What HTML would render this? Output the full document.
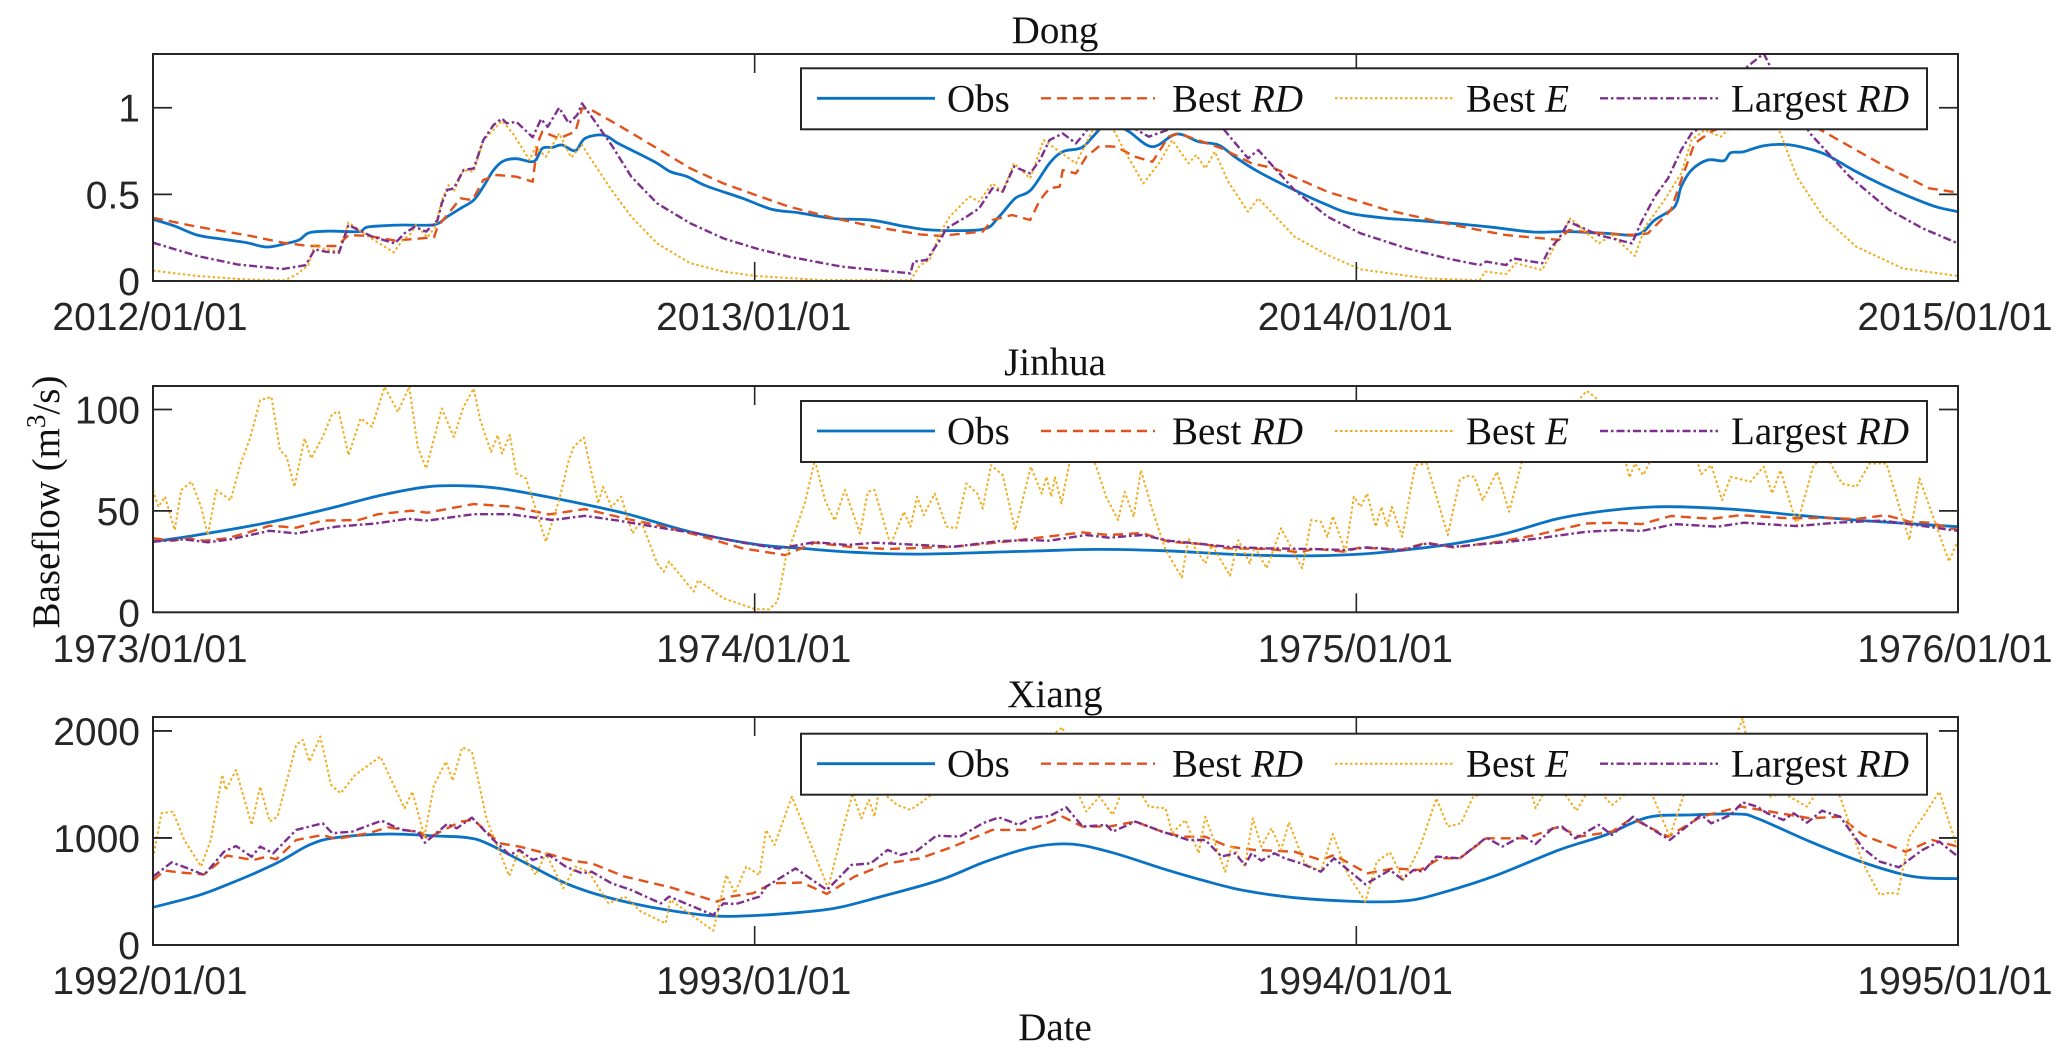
<!DOCTYPE html>
<html lang="en">
<head>
<meta charset="utf-8">
<title>Baseflow time series: Dong, Jinhua, Xiang</title>
<style>
html,body{margin:0;padding:0;background:#fff;}
svg{display:block;}
.serif{font-family:"Liberation Serif","Times New Roman",serif;fill:#111;}
.sans{font-family:"Liberation Sans",Arial,sans-serif;fill:#262626;}
</style>
</head>
<body>
<svg id="chart" xmlns="http://www.w3.org/2000/svg" width="2067" height="1058" viewBox="0 0 2067 1058">
<text class="serif" font-size="39" text-anchor="middle" transform="translate(59,502) rotate(-90)">Baseflow (m<tspan font-size="27" dy="-14">3</tspan><tspan dy="14">/s)</tspan></text>
<text class="serif" font-size="39" text-anchor="middle" x="1055" y="1040">Date</text>
</svg>
<script>
// ---------- Dong ----------
const dongYTicks=[0,0.5,1];
const dongYLabels=['0','0.5','1'];
const dongXLabels=['2012/01/01','2013/01/01','2014/01/01','2015/01/01'];
const dongObsT=[0,.036,.074,.118,.156,.189,.222,.243,.260,.293,.342,.358,.413,.467,.489,.511,.533,.549,.566,.582,.604,.633,.647,.664,.680,.702,.718,.749,.773,.806,.838,.860,.888,.920,.980,1.029,1.073,1.133,1.193,1.253,1.297,1.379,1.406,1.433,1.459,1.490,1.512,1.543,1.562,1.578,1.595,1.622,1.661,1.701,1.738,1.771,1.798,1.837,1.897,1.952,1.990,2.051,2.106,2.172,2.227,2.293,2.353,2.414,2.468,2.496,2.529,2.540,2.557,2.584,2.611,2.622,2.644,2.677,2.716,2.749,2.782,2.826,2.875,2.919,2.963,3];
const dongObsV=[.356,.317,.265,.240,.221,.196,.217,.237,.279,.288,.285,.312,.323,.325,.371,.419,.467,.544,.640,.692,.706,.690,.765,.771,.785,.752,.823,.842,.794,.737,.679,.631,.602,.548,.477,.413,.394,.360,.352,.313,.294,.298,.371,.477,.525,.679,.746,.769,.833,.890,.910,.862,.775,.848,.804,.785,.717,.631,.525,.438,.390,.362,.348,.329,.310,.283,.285,.275,.269,.352,.429,.544,.640,.698,.694,.740,.746,.781,.787,.765,.727,.640,.554,.487,.429,.400];
const dongRdT=[0,.074,.162,.216,.260,.306,.325,.358,.402,.467,.473,.500,.511,.531,.549,.571,.604,.631,.639,.647,.675,.702,.713,.724,.773,.838,.893,.948,1.002,1.057,1.133,1.199,1.275,1.308,1.379,1.395,1.428,1.458,1.474,1.490,1.507,1.512,1.534,1.551,1.573,1.600,1.633,1.661,1.688,1.705,1.776,1.826,1.864,1.952,2.051,2.161,2.249,2.337,2.353,2.403,2.468,2.485,2.523,2.540,2.562,2.590,2.622,2.666,2.732,2.787,2.875,2.952,3];
const dongRdV=[.365,.313,.260,.221,.202,.202,.265,.260,.233,.252,.313,.429,.477,.467,.583,.612,.602,.573,.794,.862,.823,.862,.996,.996,.900,.765,.650,.563,.496,.429,.362,.313,.269,.260,.285,.352,.381,.352,.467,.535,.544,.640,.621,.717,.779,.775,.717,.688,.833,.852,.765,.679,.650,.515,.410,.323,.265,.237,.294,.275,.265,.275,.410,.583,.794,.862,.910,.967,.948,.842,.669,.535,.510];
const dongET=[0,.074,.151,.218,.238,.258,.269,.282,.309,.325,.358,.400,.413,.429,.437,.456,.469,.480,.491,.500,.516,.533,.549,.566,.580,.598,.626,.636,.653,.675,.695,.713,.729,.762,.795,.838,.893,.948,1.002,1.111,1.259,1.275,1.291,1.308,1.324,1.357,1.373,1.395,1.412,1.431,1.458,1.480,1.507,1.534,1.562,1.595,1.617,1.646,1.672,1.694,1.721,1.734,1.749,1.765,1.787,1.820,1.837,1.897,1.952,2.007,2.117,2.205,2.214,2.249,2.265,2.309,2.326,2.356,2.403,2.425,2.463,2.480,2.512,2.540,2.557,2.579,2.606,2.644,2.688,2.705,2.732,2.776,2.831,2.908,3];
const dongEV=[.060,.029,.010,.004,.035,.092,.208,.188,.169,.337,.256,.165,.227,.275,.323,.252,.313,.467,.554,.515,.640,.631,.813,.871,.925,.852,.698,.775,.717,.852,.713,.785,.698,.525,.371,.217,.102,.054,.029,.006,.004,.092,.121,.275,.371,.487,.458,.563,.515,.679,.592,.813,.746,.679,.871,.881,.737,.563,.679,.813,.679,.727,.650,.746,.573,.400,.477,.256,.150,.067,.015,.004,.054,.040,.102,.063,.179,.362,.217,.265,.144,.313,.467,.621,.813,.871,.833,.967,.967,.852,.602,.371,.198,.073,.029];
const dongLargestT=[0,.074,.140,.216,.254,.269,.287,.309,.325,.364,.402,.418,.435,.454,.473,.480,.489,.500,.516,.533,.549,.566,.580,.588,.604,.631,.645,.656,.675,.691,.705,.713,.729,.762,.795,.838,.893,.948,1.002,1.057,1.144,1.259,1.264,1.286,1.308,1.319,1.352,1.373,1.395,1.412,1.431,1.458,1.474,1.490,1.512,1.534,1.562,1.611,1.655,1.694,1.732,1.776,1.820,1.837,1.897,1.952,2.007,2.084,2.150,2.205,2.216,2.249,2.260,2.309,2.320,2.337,2.353,2.403,2.458,2.474,2.496,2.518,2.540,2.557,2.590,2.650,2.677,2.688,2.754,2.820,2.886,2.941,3];
const dongLargestV=[.221,.144,.096,.069,.092,.183,.169,.163,.323,.256,.217,.275,.313,.285,.352,.448,.525,.535,.640,.650,.813,.900,.938,.910,.919,.829,.935,.890,1.0,.910,.958,1.025,.948,.785,.602,.448,.333,.246,.188,.140,.083,.044,.112,.121,.237,.304,.371,.419,.535,.515,.660,.621,.698,.813,.852,.794,.910,.919,.833,.881,.910,.890,.708,.756,.525,.371,.275,.188,.131,.092,.112,.092,.131,.102,.179,.246,.342,.265,.217,.342,.487,.592,.756,.852,.929,1.237,1.313,1.237,.852,.602,.410,.304,.217];

// ---------- Jinhua ----------
const jinhuaYTicks=[0,50,100];
const jinhuaYLabels=['0','50','100'];
const jinhuaXLabels=['1973/01/01','1974/01/01','1975/01/01','1976/01/01'];
const jinhuaObsT=[0,.074,.183,.293,.380,.456,.516,.576,.675,.784,.893,1.002,1.079,1.166,1.275,1.459,1.567,1.677,1.787,1.897,2.007,2.095,2.172,2.249,2.337,2.425,2.512,2.622,2.732,2.842,3];
const jinhuaObsV=[34.8,38.1,43.8,51.2,57.8,61.9,62.4,61.1,55.8,48.8,39.7,33.5,31.5,29.6,28.7,30.2,31.0,30.4,28.7,27.8,28.7,31.2,34.3,38.9,46.3,50.4,52.1,50.9,47.9,45.2,42.2];
const jinhuaRdT=[0,.033,.058,.085,.123,.156,.194,.238,.282,.342,.374,.429,.456,.533,.598,.658,.718,.784,.838,.904,.980,1.051,1.100,1.166,1.220,1.330,1.417,1.545,1.589,1.644,1.688,1.743,1.787,1.853,1.908,1.930,1.980,2.007,2.073,2.117,2.161,2.238,2.304,2.381,2.430,2.474,2.523,2.590,2.639,2.721,2.776,2.831,2.880,2.919,2.952,3];
const jinhuaRdV=[36.5,35.3,36.5,35.3,36.5,39.2,42.7,41.7,45.2,45.5,48.4,50.1,49.1,53.4,52.1,48.3,50.9,46.3,43.0,38.1,31.5,28.2,34.3,32.0,31.2,32.3,34.8,39.4,38.1,39.1,34.8,33.7,31.5,31.2,29.6,31.4,29.9,32.0,30.7,34.3,32.0,34.8,38.4,43.8,44.2,43.5,47.5,46.1,47.9,46.3,46.6,46.0,47.9,44.7,44.2,40.6];
const jinhuaET=[0,.009,.020,.036,.047,.064,.080,.091,.105,.129,.145,.162,.178,.197,.211,.222,.235,.252,.263,.282,.298,.309,.325,.345,.364,.385,.407,.426,.440,.454,.480,.500,.516,.533,.544,.562,.573,.580,.593,.604,.620,.653,.675,.691,.699,.716,.740,.748,.762,.778,.797,.811,.838,.849,.858,.899,.906,.948,1.002,1.024,1.038,1.051,1.068,1.084,1.100,1.117,1.133,1.150,1.175,1.188,1.199,1.226,1.248,1.259,1.270,1.281,1.299,1.319,1.335,1.352,1.370,1.379,1.393,1.412,1.433,1.459,1.477,1.485,1.493,1.499,1.510,1.523,1.545,1.567,1.584,1.604,1.615,1.630,1.642,1.661,1.683,1.710,1.721,1.749,1.760,1.790,1.804,1.823,1.831,1.851,1.875,1.910,1.925,1.941,1.952,1.961,1.982,1.996,2.007,2.018,2.032,2.042,2.051,2.059,2.076,2.098,2.117,2.152,2.172,2.183,2.196,2.210,2.234,2.254,2.276,2.315,2.359,2.383,2.403,2.436,2.454,2.463,2.477,2.502,2.545,2.573,2.590,2.608,2.622,2.655,2.677,2.691,2.705,2.732,2.760,2.782,2.807,2.831,2.853,2.881,2.919,2.936,2.985,3];
const jinhuaEV=[60.3,52,57,40.6,60.3,64.4,52,38,60.3,55.3,72.6,86.5,104.6,106.2,80,76.7,61.9,85.7,75.9,86.5,98,98.9,77.5,95.6,91.5,111.2,98.9,111.2,81.6,70.9,100.5,86.5,101.3,110.3,94.7,79.1,87.4,78.3,87.4,68.5,66,34.8,55.3,75,81.6,86.2,53.7,61.9,52,57,38.9,45,24.1,20,25,10.2,15.9,6.9,1.5,1.5,5.3,25.8,40.6,54.5,75,55.3,45.2,60.3,38.9,59.4,60.3,33.2,49.6,42.2,57,47.9,58.6,42.2,41.4,63.5,58.6,51.2,72.6,67.7,40.6,71.8,58.6,66.8,57,66.8,53.7,73.4,83.3,72.6,57,45.5,59.4,47.1,70.1,50.4,30.7,17.2,36.5,24.1,33.2,18.1,35.6,24.1,32.3,21.7,41.4,21.7,45.5,44.7,37.3,47.5,29.9,57,52,58.6,42.2,52,42.2,52,37.3,72.6,73.4,38.1,65.2,67.2,66.8,55.3,69.3,49.6,75,83.3,101.3,109.2,104.6,88.2,66.5,73.4,67.7,83.3,96.4,68.1,72.6,55.3,66.8,64.4,71.8,58.6,70.1,43,72.6,76.7,63.5,61.9,73.4,73.4,35.6,66,25,35.6];
const jinhuaLargestT=[0,.052,.091,.129,.194,.238,.304,.369,.424,.456,.533,.593,.664,.718,.773,.849,.904,.980,1.040,1.100,1.155,1.199,1.275,1.330,1.406,1.459,1.490,1.551,1.589,1.644,1.688,1.743,1.787,1.853,1.930,1.980,2.018,2.078,2.117,2.161,2.238,2.304,2.381,2.436,2.474,2.529,2.600,2.644,2.732,2.798,2.875,2.930,3];
const jinhuaLargestV=[34.8,36.0,34.5,36.0,40.2,38.9,42.2,43.8,46.1,45.2,48.4,48.4,45.5,47.6,45.2,41.4,38.9,34.3,31.4,34.6,33.2,34.3,33.2,32.3,35.1,35.6,35.3,38.1,36.8,38.1,35.3,33.7,32.3,31.5,31.2,30.7,32.0,30.7,34.0,32.3,34.3,36.5,39.7,40.6,40.1,43.5,42.2,44.2,42.5,44.2,45.2,43.0,40.2];

// ---------- Xiang ----------
const xiangYTicks=[0,1000,2000];
const xiangYLabels=['0','1000','2000'];
const xiangXLabels=['1992/01/01','1993/01/01','1994/01/01','1995/01/01'];
const xiangObsT=[0,.074,.129,.205,.260,.304,.391,.467,.522,.555,.620,.686,.751,.838,.926,.980,1.057,1.133,1.210,1.308,1.384,1.459,1.523,1.589,1.677,1.743,1.809,1.897,2.007,2.084,2.139,2.227,2.337,2.414,2.485,2.557,2.633,2.666,2.754,2.831,2.897,2.941,3];
const xiangObsV=[352,461,576,763,935,1003,1037,1019,1003,950,763,576,452,343,274,271,296,343,452,607,779,910,944,872,716,607,514,442,405,414,483,639,888,1028,1193,1215,1224,1184,966,794,676,629,620];
const xiangRdT=[0,.020,.047,.085,.123,.167,.189,.205,.238,.282,.304,.358,.391,.445,.456,.511,.533,.576,.609,.653,.697,.729,.784,.860,.937,.959,.997,1.029,1.079,1.120,1.166,1.221,1.275,1.330,1.395,1.459,1.512,1.545,1.589,1.633,1.677,1.710,1.749,1.787,1.831,1.897,1.941,1.963,2.018,2.062,2.106,2.139,2.172,2.216,2.282,2.337,2.370,2.425,2.458,2.518,2.573,2.639,2.688,2.754,2.804,2.842,2.913,2.957,3];
const xiangRdV=[607,695,676,660,835,794,825,800,981,1028,990,1044,1100,1050,997,1153,1168,950,919,857,788,763,639,539,405,452,483,576,583,477,639,763,810,919,1075,1075,1199,1106,1106,1153,1059,1012,1012,919,888,872,794,841,670,716,701,810,810,997,997,1106,1012,1059,1184,1012,1199,1293,1246,1184,1199,1028,872,981,919];
const xiangET=[0,.014,.033,.052,.080,.096,.115,.121,.138,.164,.178,.194,.207,.238,.249,.260,.278,.296,.312,.336,.378,.418,.431,.451,.467,.487,.498,.514,.530,.555,.592,.609,.636,.653,.682,.702,.724,.757,.784,.811,.852,.860,.931,.953,.967,.986,1.008,1.019,1.033,1.046,1.062,1.122,1.144,1.163,1.177,1.190,1.199,1.207,1.237,1.259,1.275,1.319,1.384,1.428,1.459,1.512,1.540,1.551,1.573,1.595,1.622,1.655,1.683,1.694,1.716,1.738,1.749,1.782,1.793,1.815,1.828,1.842,1.859,1.875,1.888,1.914,1.941,1.961,1.985,2.015,2.034,2.056,2.078,2.106,2.133,2.152,2.174,2.194,2.234,2.282,2.298,2.326,2.366,2.392,2.425,2.469,2.493,2.521,2.545,2.589,2.622,2.642,2.655,2.688,2.710,2.749,2.776,2.804,2.842,2.870,2.886,2.900,2.919,2.946,2.969,3];
const xiangEV=[810,1230,1246,981,732,981,1589,1448,1635,1121,1480,1153,1199,1869,1916,1713,1947,1495,1417,1589,1760,1277,1433,1012,1495,1713,1536,1847,1807,1168,645,888,654,857,530,732,685,389,452,312,202,421,134,654,483,732,654,1075,934,1137,1386,530,1028,1417,1184,1355,1199,1448,1308,1262,1324,1511,1698,1885,1822,2034,1386,1246,1386,1215,1604,1293,1277,1044,1168,857,1199,685,934,732,1184,919,1090,888,1146,763,685,1037,670,405,779,866,607,919,1371,1106,1137,1386,1448,1604,1277,1573,1255,1511,1308,1511,1386,1012,1417,1667,1791,2118,1760,1386,1417,1293,1511,1386,763,467,489,477,1012,1230,1433,888];
const xiangLargestT=[0,.031,.058,.085,.118,.138,.164,.178,.200,.238,.282,.298,.331,.380,.413,.440,.452,.489,.505,.530,.566,.593,.609,.631,.658,.686,.713,.729,.762,.795,.844,.858,.931,.948,.969,1.008,1.019,1.068,1.120,1.161,1.193,1.221,1.242,1.270,1.302,1.341,1.379,1.406,1.439,1.459,1.490,1.518,1.545,1.584,1.595,1.633,1.677,1.721,1.749,1.776,1.798,1.815,1.826,1.842,1.864,1.881,1.908,1.941,1.963,2.015,2.056,2.076,2.095,2.111,2.133,2.172,2.216,2.243,2.276,2.298,2.326,2.342,2.364,2.403,2.425,2.460,2.480,2.521,2.573,2.590,2.622,2.642,2.666,2.683,2.710,2.727,2.749,2.774,2.804,2.842,2.870,2.902,2.941,2.969,3];
const xiangLargestV=[639,773,716,654,872,925,825,919,857,1075,1137,1044,1059,1162,1075,1059,956,1131,1090,1190,981,841,888,794,841,732,670,685,576,514,389,452,280,389,383,452,545,716,514,748,763,888,841,882,1022,1012,1137,1193,1122,1184,1205,1286,1106,1122,1059,1153,1059,981,981,826,857,748,857,788,857,810,763,685,810,567,701,614,701,685,826,810,1003,919,1022,944,1090,1106,997,1122,1028,1199,1122,981,1215,1137,1215,1333,1293,1230,1168,1230,1143,1255,1199,903,779,726,888,966,826];

// ---------- shared layout ----------
const svg=document.getElementById('chart');
const NS='http://www.w3.org/2000/svg';
const axisLeft=153, axisRight=1958, spanYears=3;
const INK='#262626';
function xScale(t){return axisLeft+t/spanYears*(axisRight-axisLeft);}
function makeY(top,bottom,yMax){return function(v){return bottom-v/yMax*(bottom-top);};}
function node(tag,parent){const n=document.createElementNS(NS,tag);parent.appendChild(n);return n;}
function set(n,a){for(const k in a)n.setAttribute(k,a[k]);return n;}
const styles={
  obs:{stroke:'#0a72c4',width:2.8,dash:''},
  rd:{stroke:'#e2521a',width:2.4,dash:'10 6'},
  e:{stroke:'#f2ab1c',width:2,dash:'2.5 2.5'},
  largest:{stroke:'#7e2f8e',width:2.4,dash:'8 3 2.5 3'}
};
const seriesOrder=['obs','rd','e','largest'];

// smooth curve through the points for the observed series
function smoothPath(pts){
  let d='M'+pts[0][0].toFixed(1)+' '+pts[0][1].toFixed(1);
  for(let i=0;i<pts.length-1;i++){
    const p0=pts[Math.max(i-1,0)],p1=pts[i],p2=pts[i+1],p3=pts[Math.min(i+2,pts.length-1)];
    const c1x=p1[0]+(p2[0]-p0[0])/6,c1y=p1[1]+(p2[1]-p0[1])/6;
    const c2x=p2[0]-(p3[0]-p1[0])/6,c2y=p2[1]-(p3[1]-p1[1])/6;
    d+='C'+c1x.toFixed(1)+' '+c1y.toFixed(1)+' '+c2x.toFixed(1)+' '+c2y.toFixed(1)+' '+p2[0].toFixed(1)+' '+p2[1].toFixed(1);
  }
  return d;
}

function drawPanel(p){
  const g=node('g',svg);
  
  
  const y=makeY(p.top,p.bottom,p.yMax);
  const clipId='clip-'+p.key;
  const clip=node('clipPath',g);
  clip.setAttribute('id',clipId);
  set(node('rect',clip),{x:axisLeft,y:p.top,width:axisRight-axisLeft,height:p.bottom-p.top});

  // series
  seriesOrder.forEach(function(s){
    const d=p.series[s];
    const pts=d.t.map(function(t,i){return [xScale(t),y(d.v[i])];});
    const line=node('path',g);
    
    
    const pathD=s==='obs'?smoothPath(pts):'M'+pts.map(function(q){return q[0].toFixed(1)+' '+q[1].toFixed(1);}).join('L');
    set(line,{d:pathD,fill:'none',stroke:styles[s].stroke,'stroke-width':styles[s].width,'clip-path':'url(#'+clipId+')','stroke-linejoin':'round'});
    if(styles[s].dash)line.setAttribute('stroke-dasharray',styles[s].dash);
  });

  // frame
  const frame=node('rect',g);
  
  
  set(frame,{x:axisLeft,y:p.top,width:axisRight-axisLeft,height:p.bottom-p.top,fill:'none',stroke:INK,'stroke-width':2});

  // x ticks
  p.xLabels.forEach(function(lab,i){
    const x=xScale(i);
    if(i>0&&i<p.xLabels.length-1){
      [[p.bottom,p.bottom-19],[p.top,p.top+19]].forEach(function(e){
        const tick=node('line',g);
        
        
        set(tick,{x1:x,x2:x,y1:e[0],y2:e[1],stroke:INK,'stroke-width':1.6});
      });
    }
    const tx=node('text',g);
    
    
    set(tx,{x:i===p.xLabels.length-1?x-3:(i===0?x-3:x-1),y:p.labelY,'text-anchor':'middle','font-size':39,'class':'sans'});
    tx.textContent=lab;
  });

  // y ticks
  p.yTicks.forEach(function(v,i){
    const py=y(v);
    if(v!==0){
      [[axisLeft,axisLeft+19],[axisRight,axisRight-19]].forEach(function(e){
        const tick=node('line',g);
        
        
        set(tick,{x1:e[0],x2:e[1],y1:py,y2:py,stroke:INK,'stroke-width':1.8});
      });
    }
    const tx=node('text',g);
    
    
    set(tx,{x:140,y:py+14,'text-anchor':'end','font-size':39,'class':'sans'});
    tx.textContent=p.yLabels[i];
  });

  // legend
  const lg=node('g',g);
  
  
  const lt=p.legendTop, lm=lt+30;
  const box=node('rect',lg);
  
  
  set(box,{x:801,y:lt,width:1126,height:61,fill:'#fff',stroke:INK,'stroke-width':2});
  const entries=[
    {s:'obs',x1:817,x2:935,tx:947,a:'Obs',b:''},
    {s:'rd',x1:1041,x2:1155,tx:1172,a:'Best ',b:'RD'},
    {s:'e',x1:1335,x2:1453,tx:1466,a:'Best ',b:'E'},
    {s:'largest',x1:1600,x2:1718,tx:1731,a:'Largest ',b:'RD'}
  ];
  entries.forEach(function(en){
    const key=set(node('line',lg),{x1:en.x1,x2:en.x2,y1:lm,y2:lm,stroke:styles[en.s].stroke,'stroke-width':styles[en.s].width});
    
    
    if(styles[en.s].dash)key.setAttribute('stroke-dasharray',styles[en.s].dash);
    const t=node('text',lg);
    
    
    set(t,{x:en.tx,y:lt+43,'font-size':39,'class':'serif'});
    t.style.whiteSpace='pre';
    t.appendChild(document.createTextNode(en.a));
    if(en.b){
      const it=node('tspan',t);
      it.setAttribute('font-style','italic');
      it.textContent=en.b;
    }
  });

  // title
  const title=node('text',g);
  
  
  set(title,{x:1055,y:p.titleY,'text-anchor':'middle','font-size':39,'class':'serif'});
  title.textContent=p.title;
}

drawPanel({key:'dong',title:'Dong',titleY:43,top:54,bottom:281,yMax:1.31,labelY:330,legendTop:68.3,
  yTicks:dongYTicks,yLabels:dongYLabels,xLabels:dongXLabels,
  series:{obs:{t:dongObsT,v:dongObsV},rd:{t:dongRdT,v:dongRdV},e:{t:dongET,v:dongEV},largest:{t:dongLargestT,v:dongLargestV}}});
drawPanel({key:'jinhua',title:'Jinhua',titleY:375,top:386,bottom:612.3,yMax:111.6,labelY:662,legendTop:401,
  yTicks:jinhuaYTicks,yLabels:jinhuaYLabels,xLabels:jinhuaXLabels,
  series:{obs:{t:jinhuaObsT,v:jinhuaObsV},rd:{t:jinhuaRdT,v:jinhuaRdV},e:{t:jinhuaET,v:jinhuaEV},largest:{t:jinhuaLargestT,v:jinhuaLargestV}}});
drawPanel({key:'xiang',title:'Xiang',titleY:707,top:717,bottom:945,yMax:2130,labelY:994,legendTop:733.7,
  yTicks:xiangYTicks,yLabels:xiangYLabels,xLabels:xiangXLabels,
  series:{obs:{t:xiangObsT,v:xiangObsV},rd:{t:xiangRdT,v:xiangRdV},e:{t:xiangET,v:xiangEV},largest:{t:xiangLargestT,v:xiangLargestV}}});
</script>
</body>
</html>
